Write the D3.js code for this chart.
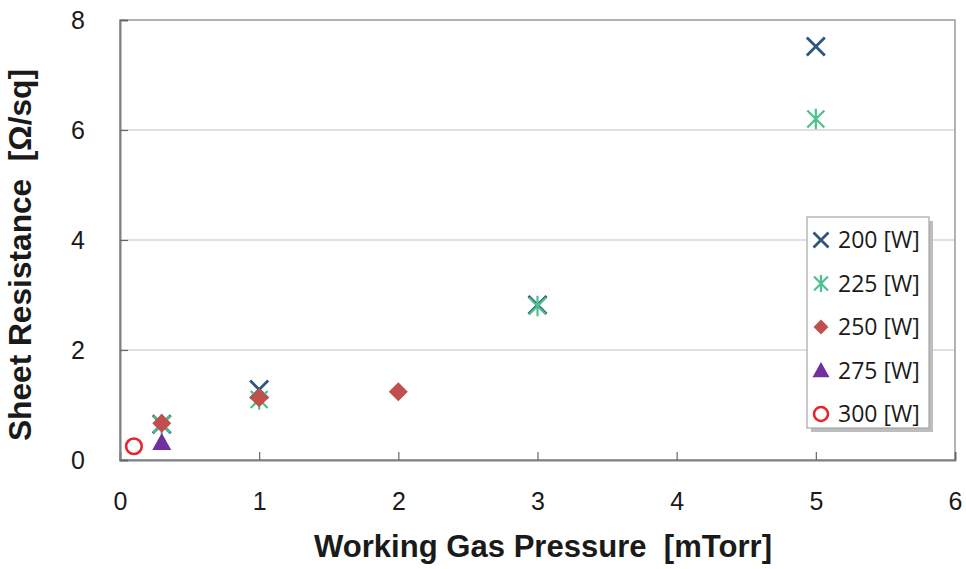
<!DOCTYPE html>
<html><head><meta charset="utf-8">
<script src="https://cdn.jsdelivr.net/npm/d3@7"></script>
<style>body{margin:0;background:#fff}</style>
</head><body>
<svg id="c" width="966" height="569"></svg>
<script>
const seriesNames = ["200 [W]","225 [W]","250 [W]","275 [W]","300 [W]"];
const s200 = [[0.3,0.65],[1,1.28],[3,2.82],[5,7.52]];
const s225 = [[0.3,0.65],[1,1.1],[3,2.8],[5,6.2]];
const s250 = [[0.3,0.67],[1,1.13],[2,1.24]];
const s275 = [[0.3,0.32]];
const s300 = [[0.1,0.25]];
const xTicks = [0,1,2,3,4,5,6];
const yTicks = [0,2,4,6,8];

const svg = d3.select("#c");
const m = {l:120, t:20, r:955, b:460};
const x = d3.scaleLinear().domain([0,6]).range([m.l, m.r]);
const y = d3.scaleLinear().domain([0,8]).range([m.b, m.t]);

// gridlines
svg.append("g").selectAll("line").data(yTicks.filter(d=>d>0&&d<8)).join("line")
  .attr("x1",m.l).attr("x2",m.r).attr("y1",d=>y(d)).attr("y2",d=>y(d))
  .attr("stroke","#d6d6d6").attr("stroke-width",1.5);
// frame
svg.append("rect").attr("x",m.l).attr("y",m.t).attr("width",m.r-m.l).attr("height",m.b-m.t)
  .attr("fill","none").attr("stroke","#9a9a9a").attr("stroke-width",1.5);

const font = "Liberation Sans, Arial, sans-serif";
const xAxis = svg.append("g").attr("transform",`translate(0,${m.b})`)
  .call(d3.axisBottom(x).tickValues(xTicks).tickSize(-8).tickPadding(32).tickFormat(d3.format("d")));
const yAxis = svg.append("g").attr("transform",`translate(${m.l},0)`)
  .call(d3.axisLeft(y).tickValues(yTicks).tickSize(-8).tickPadding(35).tickFormat(d3.format("d")));
[xAxis,yAxis].forEach(a=>{
  a.select(".domain").attr("stroke","#808080").attr("stroke-width",2);
  a.selectAll(".tick line").attr("stroke","#666").attr("stroke-width",1.2);
  a.selectAll(".tick text").attr("font-family",font).attr("font-size",25).attr("fill","#1a1a1a");
});

// titles
svg.append("text").attr("x",543).attr("y",557).attr("text-anchor","middle")
  .attr("font-family",font).attr("font-weight","bold").attr("font-size",31).attr("fill","#1a1a1a")
  .attr("xml:space","preserve").attr("textLength",458).attr("lengthAdjust","spacingAndGlyphs")
  .text("Working Gas Pressure  [mTorr]");
svg.append("text").attr("transform",`translate(31,255) rotate(-90)`).attr("text-anchor","middle")
  .attr("font-family",font).attr("font-weight","bold").attr("font-size",31).attr("fill","#1a1a1a")
  .attr("xml:space","preserve").attr("textLength",372).attr("lengthAdjust","spacingAndGlyphs")
  .text("Sheet Resistance  [Ω/sq]");

// marker drawers
const C = {x:"#2f5580", ast:"#4cc08f", dia:"#c0504d", tri:"#7030a0", cir:"#e5262d"};
function mX(g, s){ g.append("path").attr("d",`M${-s},${-s}L${s},${s}M${-s},${s}L${s},${-s}`).attr("stroke",C.x).attr("stroke-width",2.8).attr("fill","none"); }
function mAst(g, s){ g.append("path").attr("d",`M${-s},${-s}L${s},${s}M${-s},${s}L${s},${-s}M0,${-s*1.2}L0,${s*1.2}`).attr("stroke",C.ast).attr("stroke-width",2.2).attr("fill","none"); }
function mDia(g, s){ g.append("path").attr("d",`M0,${-s}L${s},0L0,${s}L${-s},0Z`).attr("fill",C.dia); }
function mTri(g, s){ g.append("path").attr("d",`M0,${-s}L${s},${s*0.8}L${-s},${s*0.8}Z`).attr("fill",C.tri); }
function mCir(g, s){ g.append("circle").attr("r",s).attr("fill","none").attr("stroke",C.cir).attr("stroke-width",2.6); }

const series = [
  {data:s200, f:mX, s:9},
  {data:s225, f:mAst, s:8.5},
  {data:s250, f:mDia, s:9.5},
  {data:s275, f:mTri, s:9.5},
  {data:s300, f:mCir, s:7.8}
];
const pts = svg.append("g");
series.forEach(se=>{
  se.data.forEach(d=>{
    const g = pts.append("g").attr("transform",`translate(${x(d[0])},${y(d[1])})`);
    se.f(g, se.s);
  });
});

// legend
const lg = svg.append("g");
lg.append("rect").attr("x",811).attr("y",221).attr("width",122).attr("height",211).attr("fill","#bdbdbd");
lg.append("rect").attr("x",807).attr("y",217).attr("width",122).attr("height",211).attr("fill","#fff").attr("stroke","#a6a6a6").attr("stroke-width",1.2);
const lf = [mX,mAst,mDia,mTri,mCir];
const ls = [7.5,7,7.5,8.5,7];
seriesNames.forEach((n,i)=>{
  const cy = 240 + i*43.5;
  const g = lg.append("g").attr("transform",`translate(821,${cy})`);
  lf[i](g, ls[i]);
  lg.append("text").attr("x",838).attr("y",cy+8).attr("font-family","Open Sans, sans-serif")
    .attr("font-size",23).attr("fill","#1a1a1a").text(n);
});
</script>
</body></html>
